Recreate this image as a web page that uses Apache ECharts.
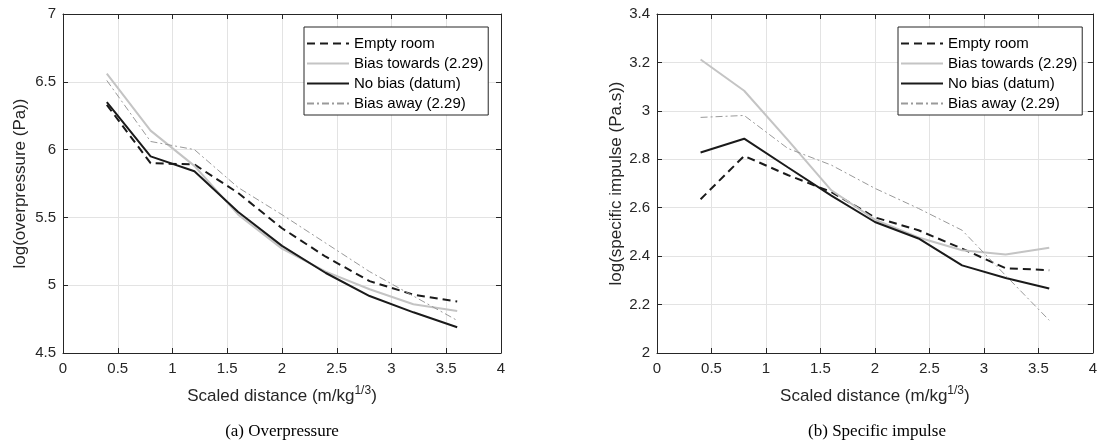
<!DOCTYPE html>
<html>
<head>
<meta charset="UTF-8">
<title></title>
<script src="https://cdn.jsdelivr.net/npm/echarts@6/dist/echarts.min.js"></script>
<style>
  html, body { margin: 0; padding: 0; background: #fff; }
  #main { width: 1100px; height: 447px; }
</style>
</head>
<body>
<div id="main"></div>
<script>
var distance = [0.4, 0.8, 1.2, 1.6, 2.0, 2.4, 2.8, 3.2, 3.6];
var names = ['Empty room', 'Bias towards (2.29)', 'No bias (datum)', 'Bias away (2.29)'];
var xTicks = [0, 4, 0.5];

// (a) log(overpressure)
var opEmpty   = [6.33, 5.90, 5.89, 5.68, 5.42, 5.21, 5.03, 4.93, 4.88];
var opTowards = [6.56, 6.14, 5.88, 5.52, 5.27, 5.10, 4.97, 4.86, 4.81];
var opNone    = [6.35, 5.95, 5.84, 5.54, 5.29, 5.09, 4.92, 4.80, 4.69];
var opAway    = [6.51, 6.06, 6.00, 5.72, 5.52, 5.31, 5.10, 4.92, 4.74];
var opTicks = [4.5, 7, 0.5];

// (b) log(specific impulse)
var imEmpty   = [2.635, 2.814, 2.735, 2.665, 2.56, 2.507, 2.431, 2.35, 2.342];
var imTowards = [3.212, 3.083, 2.88, 2.672, 2.551, 2.477, 2.424, 2.407, 2.435];
var imNone    = [2.828, 2.885, 2.767, 2.65, 2.541, 2.473, 2.362, 2.31, 2.266];
var imAway    = [2.973, 2.981, 2.845, 2.776, 2.68, 2.597, 2.507, 2.32, 2.135];
var imTicks = [2, 3.4, 0.2];

var axisCol = '#262626';
var font = '"Liberation Sans", Arial, sans-serif';

var styles = [
  { color: '#1a1a1a', width: 2, type: [8, 5] },
  { color: '#c4c4c4', width: 2, type: 'solid' },
  { color: '#1a1a1a', width: 2, type: 'solid' },
  { color: '#9a9a9a', width: 1, type: [7, 3, 2, 3] }
];

function pairs(ys) {
  return distance.map(function (x, i) { return [x, ys[i]]; });
}

function makeSeries(sets, axisIdx) {
  return sets.map(function (ys, i) {
    return {
      name: names[i],
      type: 'line',
      xAxisIndex: axisIdx,
      yAxisIndex: axisIdx,
      data: pairs(ys),
      symbol: 'none',
      silent: true,
      lineStyle: styles[i],
      itemStyle: { color: styles[i].color },
      z: 3 + i
    };
  });
}

function xAxes(grid) {
  var base = {
    type: 'value', gridIndex: grid, min: xTicks[0], max: xTicks[1], interval: xTicks[2],
    axisLine: { show: true, onZero: false, lineStyle: { color: axisCol, width: 1 } },
    axisTick: { show: true, inside: true, length: 5, lineStyle: { color: axisCol } }
  };
  return [
    Object.assign({}, base, {
      position: 'bottom',
      axisLabel: { color: axisCol, fontSize: 15, fontFamily: font, margin: 8 },
      splitLine: { show: true, lineStyle: { color: '#e3e3e3', width: 1 } },
      name: 'Scaled distance (m/kg{s|1/3})',
      nameLocation: 'middle',
      nameGap: 32,
      nameTextStyle: {
        color: axisCol, fontSize: 17, fontFamily: font,
        rich: { s: { fontSize: 12, fontFamily: font, color: axisCol, padding: [0, 0, 10, 0] } }
      }
    }),
    Object.assign({}, base, {
      position: 'top',
      axisLabel: { show: false },
      splitLine: { show: false }
    })
  ];
}

function yAxes(grid, t, label, gap) {
  var base = {
    type: 'value', gridIndex: grid, min: t[0], max: t[1], interval: t[2],
    axisLine: { show: true, onZero: false, lineStyle: { color: axisCol, width: 1 } },
    axisTick: { show: true, inside: true, length: 5, lineStyle: { color: axisCol } }
  };
  return [
    Object.assign({}, base, {
      position: 'left',
      axisLabel: { color: axisCol, fontSize: 15, fontFamily: font, margin: 7 },
      splitLine: { show: true, lineStyle: { color: '#e3e3e3', width: 1 } },
      name: label,
      nameLocation: 'middle',
      nameGap: gap,
      nameTextStyle: { color: axisCol, fontSize: 17, fontFamily: font }
    }),
    Object.assign({}, base, {
      position: 'right',
      axisLabel: { show: false },
      splitLine: { show: false }
    })
  ];
}

function legendAt(left) {
  return {
    data: names,
    orient: 'vertical',
    left: left,
    top: 27,
    padding: [9, 5, 4, 2],
    itemGap: 5,
    itemWidth: 42,
    itemHeight: 14,
    borderColor: axisCol,
    borderWidth: 1,
    borderRadius: 0,
    backgroundColor: '#fff',
    selectedMode: false,
    itemStyle: { opacity: 0 },
    textStyle: { color: '#000', fontSize: 15, fontFamily: font }
  };
}

var chart = echarts.init(document.getElementById('main'), null, { renderer: 'canvas' });
chart.setOption({
  animation: false,
  backgroundColor: '#fff',
  grid: [
    { left: 63, right: 599, top: 14, bottom: 94 },
    { left: 657, right: 3, top: 14, bottom: 94 }
  ],
  xAxis: xAxes(0).concat(xAxes(1)),
  yAxis: yAxes(0, opTicks, 'log(overpressure (Pa))', 34)
    .concat(yAxes(1, imTicks, 'log(specific impulse (Pa.s))', 31)),
  legend: [legendAt(304), legendAt(898)],
  series: makeSeries([opEmpty, opTowards, opNone, opAway], 0)
    .concat(makeSeries([imEmpty, imTowards, imNone, imAway], 2)),
  graphic: [
    { type: 'text', x: 282, y: 432, style: { text: '(a) Overpressure', font: '17px "Liberation Serif", serif', fill: '#000', textAlign: 'center', textVerticalAlign: 'middle' } },
    { type: 'text', x: 877, y: 432, style: { text: '(b) Specific impulse', font: '17px "Liberation Serif", serif', fill: '#000', textAlign: 'center', textVerticalAlign: 'middle' } }
  ]
});
</script>
</body>
</html>
